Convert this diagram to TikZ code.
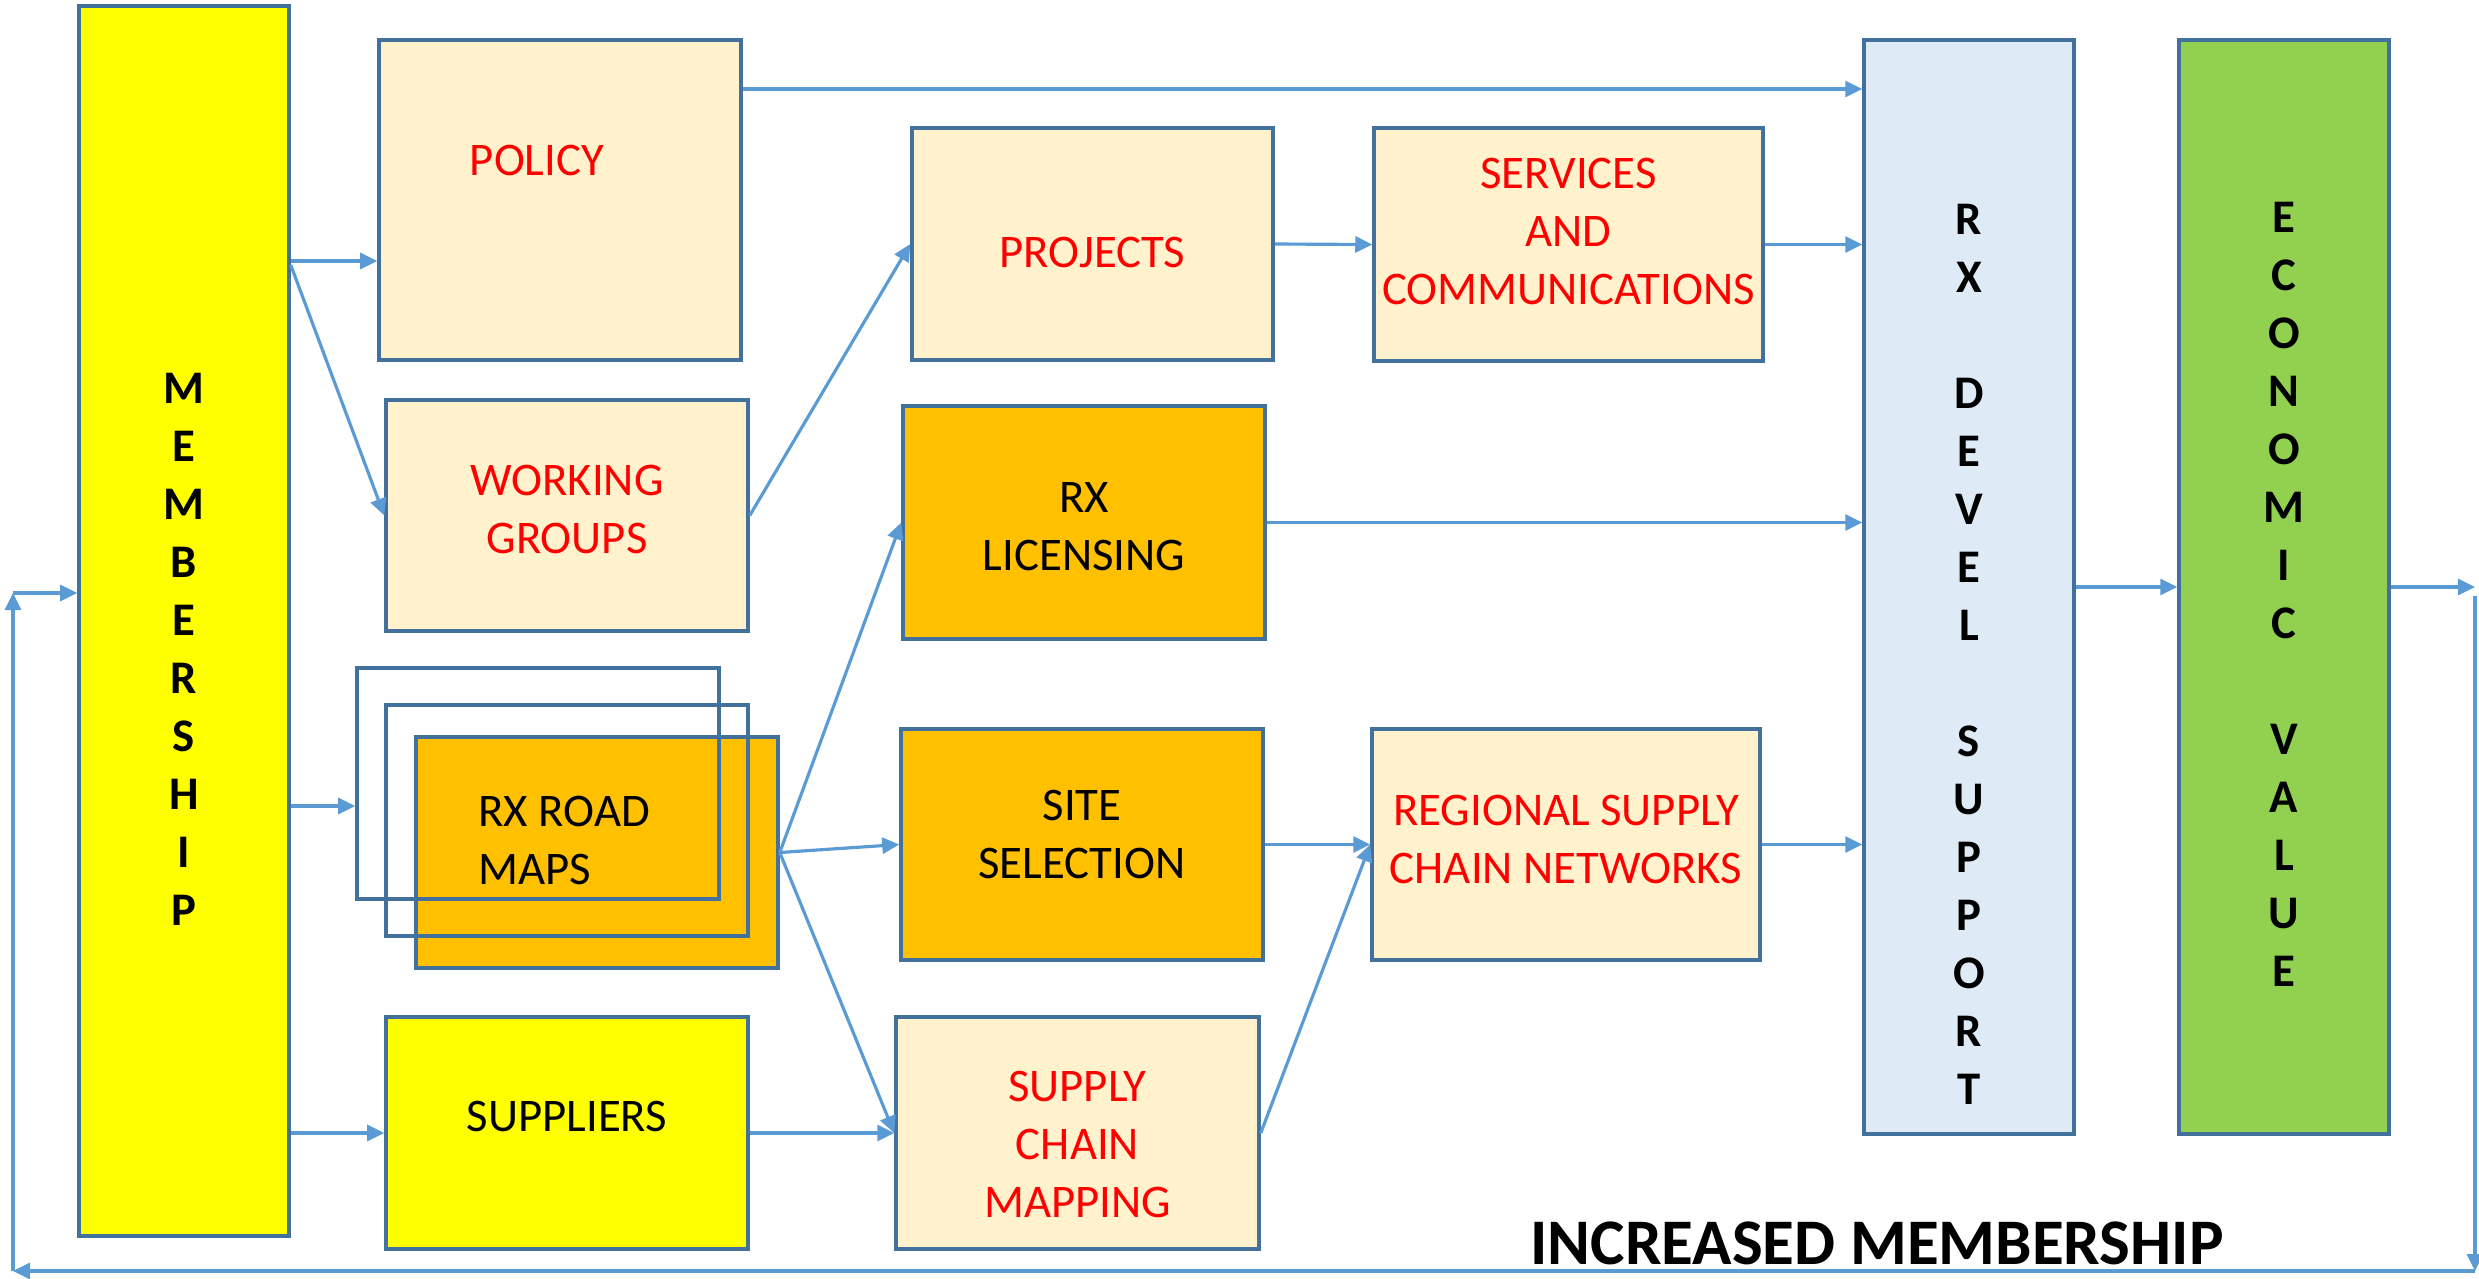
\documentclass[tikz,border=0pt]{standalone}
\usepackage{fontspec}
\setmainfont{Carlito}
\usetikzlibrary{positioning,arrows.meta}

\definecolor{boxline}{HTML}{41719C}
\definecolor{arrowblue}{HTML}{5B9BD5}
\definecolor{lighttan}{HTML}{FFF2CC}
\definecolor{darkgold}{HTML}{FFC000}
\definecolor{brightyellow}{HTML}{FFFF00}
\definecolor{paleblue}{HTML}{DEEBF7}
\definecolor{leafgreen}{HTML}{92D050}

\tikzset{
  box/.style={draw=boxline, line width=1pt, minimum width=3.62cm, minimum height=2.31cm, inner sep=0pt},
  redbox/.style={box, fill=lighttan},
  goldbox/.style={box, fill=darkgold},
  tallbox/.style={box, minimum width=2.1cm, minimum height=10.94cm},
  boxtext/.style={align=center, font=\fontsize{13.3}{16.5}\selectfont},
  redtext/.style={boxtext, text=red},
  upright/.style={align=center, font=\bfseries\fontsize{13.3}{16.5}\selectfont},
  arr/.style={draw=arrowblue, line width=0.9pt, -{Triangle[length=0.17cm, width=0.16cm]}},
}

\begin{document}
\begin{tikzpicture}
    \useasboundingbox (0,0) rectangle (24.79,-12.78);

    % boxes
    \node[tallbox, fill=brightyellow, minimum height=12.3cm] (member) at (1.84,-6.21) {};
    \node[upright] (membertext) at (1.84,-6.49) {M\\E\\M\\B\\E\\R\\S\\H\\I\\P};

    \node[redbox, minimum height=3.2cm] (policy) at (5.60,-2.00) {};
    \node[redtext] (policytext) at (5.37,-1.60) {POLICY};
    \node[redbox] (working) at (5.67,-5.155) {};
    \node[redtext, yshift=0.06cm] (workingtext) at (working) {WORKING\\GROUPS};

    \node[goldbox] (roadmaps) at (5.97,-8.525) {};
    \node[box] (frame2) at (5.67,-8.205) {};
    \node[box] (frame1) at (5.38,-7.835) {};
    \node[boxtext, align=left, anchor=west] (roadmapstext) at (4.66,-8.40) {RX ROAD\\MAPS};
    \node[box, fill=brightyellow, minimum height=2.32cm] (suppliers) at (5.67,-11.33) {};
    \node[boxtext, yshift=0.17cm] (supplierstext) at (suppliers) {SUPPLIERS};

    \node[redbox, minimum width=3.61cm, minimum height=2.32cm] (projects) at (10.925,-2.44) {};
    \node[redtext, yshift=-0.08cm] (projectstext) at (projects) {PROJECTS};
    \node[goldbox, minimum height=2.33cm] (licensing) at (10.84,-5.225) {};
    \node[boxtext, yshift=-0.04cm] (licensingtext) at (licensing) {RX\\LICENSING};
    \node[goldbox] (site) at (10.82,-8.445) {};
    \node[boxtext, yshift=0.10cm] (sitetext) at (site) {SITE\\SELECTION};
    \node[redbox, minimum width=3.63cm, minimum height=2.32cm] (mapping) at (10.775,-11.33) {};
    \node[redtext, yshift=-0.11cm] (mappingtext) at (mapping) {SUPPLY\\CHAIN\\MAPPING};

    \node[redbox, minimum width=3.89cm, minimum height=2.33cm] (services) at (15.685,-2.445) {};
    \node[redtext, yshift=0.13cm] (servicestext) at (services) {SERVICES\\AND\\COMMUNICATIONS};
    \node[redbox, minimum width=3.88cm] (regional) at (15.66,-8.445) {};
    \node[redtext, yshift=0.05cm] (regionaltext) at (regional) {REGIONAL SUPPLY\\CHAIN NETWORKS};

    \node[tallbox, fill=paleblue] (devel) at (19.69,-5.87) {};
    \node[upright] (develtext) at (19.69,-6.54) {R\\X\\[16.5pt]D\\E\\V\\E\\L\\[16.5pt]S\\U\\P\\P\\O\\R\\T};
    \node[tallbox, fill=leafgreen] (econ) at (22.84,-5.87) {};
    \node[upright] (econtext) at (22.84,-5.94) {E\\C\\O\\N\\O\\M\\I\\C\\[16.5pt]V\\A\\L\\U\\E};

    \node[font=\bfseries\fontsize{18.5}{22}\selectfont] (increased) at (18.77,-12.43) {INCREASED MEMBERSHIP};

    % feedback loop points
    \coordinate (loopA) at (24.75,-5.87);
    \coordinate (loopB) at (24.75,-5.96);
    \coordinate (loopC) at (24.75,-12.71);
    \coordinate (loopD) at (0.13,-12.71);
    \coordinate (loopE) at (0.13,-5.93);

    % connectors
    \draw[arr] (member.east |- 0,-2.61) -- (policy.west |- 0,-2.61);
    \draw[arr] (member.east |- 0,-2.65) -- (working.west);
    \draw[arr] (member.east |- 0,-8.06) -- (frame1.west |- 0,-8.06);
    \draw[arr] (member.east |- suppliers.west) -- (suppliers.west);
    \draw[arr] (policy.east |- 0,-0.89) -- (devel.west |- 0,-0.89);
    \draw[arr] (working.east) -- (projects.west);
    \draw[arr] (projects.east) -- (services.west);
    \draw[arr] (services.east) -- (services.east -| devel.west);
    \draw[arr] (licensing.east) -- (licensing.east -| devel.west);
    \draw[arr] (roadmaps.east) -- (licensing.west);
    \draw[arr] (roadmaps.east) -- (site.west);
    \draw[arr] (roadmaps.east) -- (mapping.west);
    \draw[arr] (suppliers.east) -- (mapping.west);
    \draw[arr] (site.east) -- (regional.west);
    \draw[arr] (mapping.east) -- (regional.west);
    \draw[arr] (regional.east) -- (regional.east -| devel.west);
    \draw[arr] (devel.east) -- (econ.west);
    \draw[arr] (econ.east) -- (loopA);
    \draw[arr] (loopB) -- (loopC);
    \draw[arr] (loopC) -- (loopD);
    \draw[arr] (loopD) -- (loopE);
    \draw[arr] (loopE) -- (member.west |- loopE);
\end{tikzpicture}
\end{document}
